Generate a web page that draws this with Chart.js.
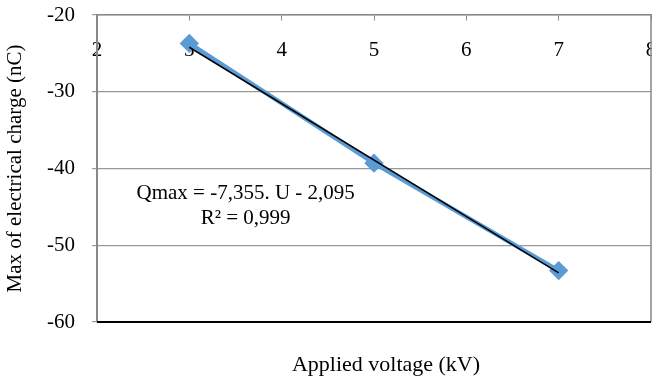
<!DOCTYPE html>
<html>
<head>
<meta charset="utf-8">
<script src="https://cdn.jsdelivr.net/npm/chart.js@4/dist/chart.umd.min.js"></script>
<style>
  body { margin: 0; background: #fff; }
  #wrap { width: 652px; height: 376px; position: relative; }
</style>
</head>
<body>
<div id="wrap"><canvas id="chart"></canvas></div>
<script>
const voltages = [3, 5, 7];
const charges = [-23.7, -39.3, -53.3];
const trendX = [3, 7];
const trendY = [-24.2, -53.6];
const xTicks = [2, 3, 4, 5, 6, 7, 8];
const yTicks = [-60, -50, -40, -30, -20];
const equationLines = ['Qmax = -7,355. U - 2,095', 'R\u00b2 = 0,999'];

const serif = 'Liberation Serif, Times New Roman, serif';

function noPadding(s) {
    s.paddingTop = 0;
    s.paddingBottom = 0;
    s.paddingLeft = 0;
    s.paddingRight = 0;
}

// frame, axis title and equation text
const extras = {
    id: 'extras',
    afterDraw(chart) {
        const ctx = chart.ctx;
        const area = chart.chartArea;
        const x = chart.scales.x;
        const y = chart.scales.y;
        ctx.save();
        ctx.strokeStyle = '#888';
        ctx.lineWidth = 1.5;
        ctx.beginPath();
        ctx.moveTo(area.right, area.top);
        ctx.lineTo(area.right, area.bottom);
        ctx.stroke();

        ctx.strokeStyle = '#000';
        ctx.lineWidth = 2;
        ctx.beginPath();
        ctx.moveTo(area.left, area.bottom);
        ctx.lineTo(area.right, area.bottom);
        ctx.stroke();

        ctx.fillStyle = '#000';
        ctx.font = '22px ' + serif;
        ctx.textAlign = 'center';
        ctx.textBaseline = 'middle';
        ctx.fillText('Applied voltage (kV)', 386, 365);

        ctx.font = '21px ' + serif;
        const ex = x.getPixelForValue(3.61);
        ctx.fillText(equationLines[0], ex, y.getPixelForValue(-43.2));
        ctx.fillText(equationLines[1], ex, y.getPixelForValue(-46.45));
        ctx.restore();
    }
};

new Chart(document.getElementById('chart'), {
    type: 'scatter',
    data: {
        datasets: [
            {
                label: 'trend',
                data: trendX.map((v, i) => ({ x: v, y: trendY[i] })),
                showLine: true,
                borderColor: '#000',
                borderWidth: 1.5,
                pointRadius: 0,
                order: 0
            },
            {
                label: 'Qmax',
                data: voltages.map((v, i) => ({ x: v, y: charges[i] })),
                showLine: true,
                borderColor: '#5B9BD5',
                backgroundColor: '#5B9BD5',
                borderWidth: 4.5,
                pointStyle: 'rectRot',
                pointRadius: 6.5,
                order: 1
            }
        ]
    },
    options: {
        responsive: true,
        maintainAspectRatio: false,
        animation: false,
        layout: { autoPadding: false, padding: { top: 15, bottom: 54, right: 1, left: 0 } },
        plugins: {
            legend: { display: false },
            tooltip: { enabled: false }
        },
        scales: {
            x: {
                type: 'linear',
                position: { y: -20 },
                min: 2,
                max: 8,
                afterBuildTicks: s => { s.ticks = xTicks.map(v => ({ value: v })); },
                afterFit: noPadding,
                ticks: {
                    color: '#000',
                    font: { family: serif, size: 21 },
                    padding: 18
                },
                grid: {
                    drawOnChartArea: false,
                    drawTicks: true,
                    tickLength: 5,
                    color: '#888'
                },
                border: { display: true, color: '#888', width: 1.5 }
            },
            y: {
                min: -60,
                max: -20,
                afterBuildTicks: s => { s.ticks = yTicks.map(v => ({ value: v })); },
                afterFit: s => { noPadding(s); s.width = 97; },
                ticks: {
                    color: '#000',
                    font: { family: serif, size: 21 },
                    padding: 17
                },
                grid: {
                    color: '#999',
                    lineWidth: 1.2,
                    tickLength: 5
                },
                border: { display: true, color: '#888', width: 2 },
                title: {
                    display: true,
                    text: 'Max of electrical charge (nC)',
                    color: '#000',
                    font: { family: serif, size: 21 },
                    padding: { top: 3, bottom: 0 }
                }
            }
        }
    },
    plugins: [extras]
});
</script>
</body>
</html>
